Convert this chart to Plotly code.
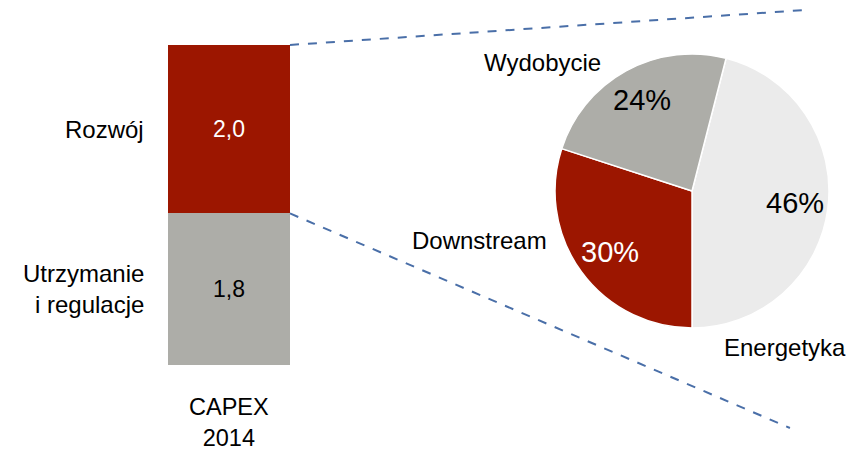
import plotly.graph_objects as go

# bar (left): CAPEX 2014 split
bar_category = "CAPEX<br>2014"
bar_segments = ["Utrzymanie<br>i regulacje", "Rozwój"]
bar_values = [1.8, 2.0]
bar_text = ["1,8", "2,0"]
bar_colors = ["#adada8", "#9c1600"]
bar_text_colors = ["#000000", "#ffffff"]

# pie (right): breakdown of "Rozwój"
pie_labels = ["Energetyka", "Downstream", "Wydobycie"]
pie_values = [46, 30, 24]
pie_colors = ["#ebebeb", "#9c1600", "#adada8"]
pie_text_colors = ["#000000", "#ffffff", "#000000"]

FONT = "Arial, Liberation Sans, sans-serif"

fig = go.Figure()

for name, val, txt, col, tcol in zip(bar_segments, bar_values, bar_text, bar_colors, bar_text_colors):
    fig.add_trace(go.Bar(
        x=[0], y=[val], width=1, name=name,
        marker=dict(color=col, line=dict(width=0)),
        text=[txt], textposition="inside", insidetextanchor="middle",
        textfont=dict(color=tcol, size=23, family=FONT),
        hoverinfo="skip",
    ))

fig.add_trace(go.Pie(
    labels=pie_labels, values=pie_values, sort=False,
    direction="clockwise", rotation=14.4,
    marker=dict(colors=pie_colors, line=dict(color="white", width=1.5)),
    textinfo="none",
    domain=dict(x=[0.6545, 0.9776], y=[0.2854, 0.8824]),
    hoverinfo="skip",
))

# segment labels left of the bar
cum = 0
for name, val in zip(bar_segments, bar_values):
    fig.add_annotation(x=-0.68, y=cum + val / 2, text=name, showarrow=False,
                       xanchor="right", yanchor="middle", align="right",
                       font=dict(size=24, family=FONT, color="black"))
    cum += val

fig.add_annotation(x=0, y=-0.68, text=bar_category, showarrow=False,
                   xanchor="center", yanchor="middle",
                   font=dict(size=23.5, family=FONT, color="black"))

# pie labels: name outside, percent inside
pie_label_pos = {"Wydobycie": (0.640, 0.863), "Downstream": (0.566, 0.477), "Energetyka": (0.926, 0.242)}
pie_pct_pos = {"Wydobycie": (0.757, 0.782), "Downstream": (0.719, 0.451), "Energetyka": (0.9375, 0.558)}
for lab, val, tcol in zip(pie_labels, pie_values, pie_text_colors):
    lx, ly = pie_label_pos[lab]
    fig.add_annotation(xref="paper", yref="paper", x=lx, y=ly, text=lab, showarrow=False,
                       xanchor="center", yanchor="middle",
                       font=dict(size=24, family=FONT, color="black"))
    tx, ty = pie_pct_pos[lab]
    fig.add_annotation(xref="paper", yref="paper", x=tx, y=ty, text=f"{val}%", showarrow=False,
                       xanchor="center", yanchor="middle",
                       font=dict(size=29, family=FONT, color=tcol))

# dashed connectors from the "Rozwój" segment to the pie
top = sum(bar_values)
mid = bar_values[0]
line_style = dict(color="#4a6fa8", width=2, dash="dash")
fig.add_shape(type="line", x0=0.5, y0=top, x1=4.73, y1=4.216, line=line_style)
fig.add_shape(type="line", x0=0.5, y0=mid, x1=4.598, y1=-0.748, line=line_style)

fig.update_layout(
    width=848, height=459,
    margin=dict(l=0, r=0, t=0, b=0),
    barmode="stack", showlegend=False,
    plot_bgcolor="white", paper_bgcolor="white",
    xaxis=dict(range=[-1.877, 5.074], visible=False, domain=[0, 1]),
    yaxis=dict(range=[-1.116, 4.334], visible=False, domain=[0, 1]),
    font=dict(family=FONT),
)

# drop the default 8px page margin so the figure sits at the window's corner
fig.write_html("out.html", config={"displayModeBar": False},
               post_script="document.body.style.margin='0';")
